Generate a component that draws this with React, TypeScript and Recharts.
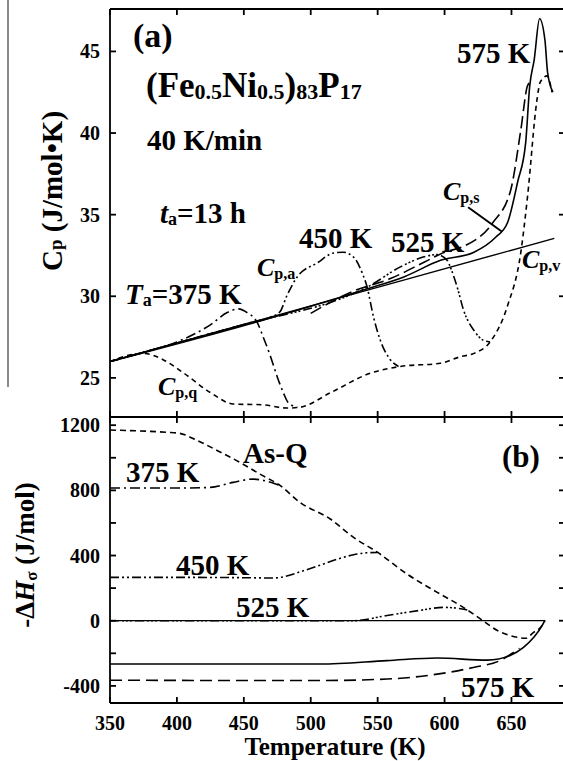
import React from 'react';
import { LineChart, Line, XAxis, YAxis, ReferenceLine } from 'recharts';

// ---------- shared x axis ----------
const T_DOMAIN = [350, 690];
const T_TICKS = [350, 400, 450, 500, 550, 600, 650];

// ---------- panel (a): Cp (J/mol K) — occupies the upper part of the plot ----------
const CP_DOMAIN = [5.08, 47.6];
const CP_TICKS = [25, 30, 35, 40, 45];
const CP_BOTTOM = 22.6;

const cpvT = [350, 682];
const cpvC = [26.0, 33.55];

const cpqT = [350, 362, 375, 390, 405, 425, 442, 464, 482, 492, 515, 545, 567, 597, 612, 622, 634, 647, 657, 662, 669, 671.4, 676.6, 680.3];
const cpqC = [26.0, 26.35, 26.5, 26.1, 25.3, 24.1, 23.4, 23.35, 23.15, 23.2, 24.1, 25.3, 25.7, 25.9, 26.3, 26.5, 27.2, 29.4, 32.7, 36.1, 42.0, 43.1, 43.5, 42.5];

const a375T = [350, 375, 400, 425, 437.6, 446, 452.5, 460, 464.5, 470, 475, 479.5, 483, 490];
const a375C = [26.0, 26.57, 27.2, 28.25, 29.0, 29.23, 29.0, 28.4, 27.5, 26.3, 25.06, 24.1, 23.5, 23.2];

const a450T = [350, 400, 450, 470, 477, 482, 490, 505, 517, 524, 532, 538.6, 542, 547, 552, 559.6, 565.6];
const a450C = [26.0, 27.14, 28.27, 28.73, 29.05, 30.0, 31.2, 32.05, 32.65, 32.7, 32.4, 31.4, 30.6, 28.7, 27.3, 26.1, 25.7];

const a525T = [350, 450, 530, 542, 567, 584, 594.6, 602, 604.5, 610, 614, 622, 629, 634];
const a525C = [26.0, 28.27, 30.1, 30.55, 31.8, 32.4, 32.55, 32.2, 31.75, 30.4, 29.2, 27.9, 27.3, 27.2];

const a575T = [350, 540, 570, 597, 622, 638, 647, 654.6, 660.6, 663.6, 667, 671, 675, 677, 681];
const a575C = [26.0, 30.4, 31.2, 32.2, 32.7, 33.6, 34.5, 37.0, 39.4, 42.85, 44.5, 47.0, 45.7, 43.7, 42.5];

const cpsT = [500, 530, 560, 585, 600, 614, 636, 649.4, 657, 662, 665];
const cpsC = [28.95, 30.25, 31.1, 32.1, 32.7, 33.05, 34.5, 36.5, 40.2, 42.9, 43.2];

// ---------- panel (b): -dH (J/mol) — occupies the lower part of the plot ----------
const H_DOMAIN = [-505, 3754];
const H_TICKS = [-400, -200, 0, 200, 400, 600, 800, 1000, 1200];

const asqT = [350, 392.6, 402, 415, 430, 447, 462, 477, 492, 514.6, 532, 550, 572, 594.5, 614, 627, 639.5, 654.5, 660.5, 666.5, 671.7, 675];
const asqH = [1170, 1156, 1150, 1107, 1045, 972, 900, 830, 726, 624, 511, 419, 286, 174, 82, 10, -60, -102, -108, -72, -41, 0];

const b375T = [350, 400, 425, 442, 457, 467.5, 477];
const b375H = [814, 814, 818, 849, 869, 855, 830];

const b450T = [350, 400, 450, 472, 480, 492, 505, 520, 532, 542, 550];
const b450H = [266, 266, 264, 262, 270, 300, 335, 378, 405, 417, 419];

const b525T = [350, 450, 532, 557, 582, 599, 610, 617];
const b525H = [0, 0, 0, 32, 64, 82, 76, 66];

const b575T = [350, 450, 507, 557, 594.5, 632, 649, 659, 666.5, 673, 675];
const b575H = [-266, -266, -266, -245, -229, -242, -213, -164, -103, -29, 4];

const bldT = [350, 450, 507, 557, 594.5, 621.5, 641.6, 651.5, 656];
const bldH = [-365, -367, -367, -358, -328, -287, -244, -195, -170];

const zeroT = [350, 675];
const zeroH = [0, 0];

const zip = (ts: number[], vs: number[]) => ts.map((t, i) => ({ t, v: vs[i] }));

// ---------- layout constants ----------
const PLOT_W = 455;    // plot width in px
const PLOT_H = 694;    // full plot height (both panels)
const PANEL_B_H = 286; // height of the lower panel
const TK = 6;

const FONT = "'Liberation Serif', 'Times New Roman', serif";
const TXT = { fill: '#000', fontSize: 20, fontWeight: 'bold' as const, fontFamily: FONT };
const INK = '#000';

const lineProps = {
  dataKey: 'v',
  dot: false,
  stroke: INK,
  strokeWidth: 1.6,
  isAnimationActive: false,
  type: 'monotone' as const,
  activeDot: false,
};

// bottom x-axis tick renderer: tick marks on bottom, middle divider and top border,
// label below; the first tick also draws the frame (bottom, divider, top and left borders)
const TickX = ({ x, y, payload, index }: any) => {
  const mid = y - PANEL_B_H;
  const top = y - PLOT_H;
  return (
    <g stroke={INK} strokeWidth={1.8} fill="none">
      {index === 0 ? (
        <g>
          <line x1={x} x2={x + PLOT_W} y1={y} y2={y} />
          <line x1={x} x2={x + PLOT_W} y1={mid} y2={mid} />
          <line x1={x} x2={x + PLOT_W} y1={top} y2={top} />
          <line x1={x} x2={x} y1={top} y2={y} />
        </g>
      ) : null}
      <line x1={x} x2={x} y1={y} y2={y - TK} />
      <line x1={x} x2={x} y1={mid - TK} y2={mid + TK} />
      <line x1={x} x2={x} y1={top} y2={top + TK} />
      <text x={x} y={y + 27} textAnchor="middle" stroke="none" {...TXT}>{payload.value}</text>
    </g>
  );
};
// left axis (panel a): x is the plot's left edge
const TickA = ({ x, y, payload }: any) => (
  <g stroke={INK} strokeWidth={1.8}>
    <line x1={x} x2={x + TK} y1={y} y2={y} />
    <line x1={x + PLOT_W} x2={x + PLOT_W - TK} y1={y} y2={y} />
    <text x={x - 10} y={y + 7} textAnchor="end" stroke="none" {...TXT}>{payload.value}</text>
  </g>
);
// right axis (panel b): x is the plot's right edge
const TickB = ({ x, y, payload }: any) => (
  <g stroke={INK} strokeWidth={1.8}>
    <line x1={x} x2={x - TK} y1={y} y2={y} />
    <line x1={x - PLOT_W} x2={x - PLOT_W + TK} y1={y} y2={y} />
    {payload.value % 400 === 0 ? (
      <text x={x - PLOT_W - 10} y={y + 7} textAnchor="end" stroke="none" {...TXT}>{payload.value}</text>
    ) : null}
  </g>
);

function Sub({ x, y, main, sub, size = 26 }: any) {
  return (
    <text x={x} y={y} fontFamily={FONT} fontWeight="bold" fontSize={size}>
      <tspan fontStyle="italic">{main}</tspan>
      <tspan fontSize={size * 0.62} dy={3}>{sub}</tspan>
    </text>
  );
}

export default function App() {
  return (
    <div style={{ position: 'absolute', left: 0, top: 0, width: 563, height: 761, overflow: 'hidden', background: '#fff' }}>
      <div style={{ position: 'absolute', left: 7, top: 0, width: 2, height: 387, background: '#8a8a8a' }} />
      <div style={{ position: 'absolute', left: 0, top: 0 }}>
        <LineChart width={565} height={761} margin={{ top: 9, right: -1, bottom: 0, left: 0 }}>
          <XAxis xAxisId="x" dataKey="t" type="number" domain={T_DOMAIN} ticks={T_TICKS} allowDataOverflow
            height={58} axisLine={false} tickLine={false} tickSize={0} tickMargin={0} interval={0}
            tick={(p: any) => <TickX {...p} />} />
          <YAxis yAxisId="a" type="number" domain={CP_DOMAIN} ticks={CP_TICKS} allowDataOverflow width={110}
            axisLine={false} tickLine={false} tickSize={0} tickMargin={0} interval={0}
            tick={(p: any) => <TickA {...p} />} />
          <YAxis yAxisId="b" orientation="right" type="number" domain={H_DOMAIN} ticks={H_TICKS} allowDataOverflow width={1}
            axisLine={false} tickLine={false} tickSize={0} tickMargin={0} interval={0}
            tick={(p: any) => <TickB {...p} />} />
          <ReferenceLine xAxisId="x" yAxisId="a" y={CP_BOTTOM} stroke={INK} strokeWidth={1.6} ifOverflow="visible" />

          <Line {...lineProps} xAxisId="x" yAxisId="a" data={zip(cpvT, cpvC)} type="linear" strokeWidth={1.4} />
          <Line {...lineProps} xAxisId="x" yAxisId="a" data={zip(cpqT, cpqC)} strokeDasharray="5 4" />
          <Line {...lineProps} xAxisId="x" yAxisId="a" data={zip(a375T, a375C)} strokeDasharray="10 4 2 4" />
          <Line {...lineProps} xAxisId="x" yAxisId="a" data={zip(a450T, a450C)} strokeDasharray="9 3 2 3 2 3" />
          <Line {...lineProps} xAxisId="x" yAxisId="a" data={zip(a525T, a525C)} strokeDasharray="9 3 2 2 2 2 2 3" />
          <Line {...lineProps} xAxisId="x" yAxisId="a" data={zip(a575T, a575C)} />
          <Line {...lineProps} xAxisId="x" yAxisId="a" data={zip(cpsT, cpsC)} strokeDasharray="12 5" />
          <ReferenceLine xAxisId="x" yAxisId="a" segment={[{ x: 617.6, y: 35.45 }, { x: 643, y: 33.95 }]}
            stroke={INK} strokeWidth={2} ifOverflow="visible" />

          <Line {...lineProps} xAxisId="x" yAxisId="b" data={zip(zeroT, zeroH)} type="linear" strokeWidth={1.2} />
          <Line {...lineProps} xAxisId="x" yAxisId="b" data={zip(asqT, asqH)} strokeDasharray="6 4" />
          <Line {...lineProps} xAxisId="x" yAxisId="b" data={zip(b375T, b375H)} strokeDasharray="10 4 2 4" />
          <Line {...lineProps} xAxisId="x" yAxisId="b" data={zip(b450T, b450H)} strokeDasharray="9 3 2 3 2 3" />
          <Line {...lineProps} xAxisId="x" yAxisId="b" data={zip(b525T, b525H)} strokeDasharray="9 3 2 2 2 2 2 3" />
          <Line {...lineProps} xAxisId="x" yAxisId="b" data={zip(b575T, b575H)} />
          <Line {...lineProps} xAxisId="x" yAxisId="b" data={zip(bldT, bldH)} strokeDasharray="12 6" />
        </LineChart>
      </div>
      <svg width={563} height={761} style={{ position: 'absolute', left: 0, top: 0, pointerEvents: 'none' }}>
        <g fontFamily={FONT} fontWeight="bold" fill="#000">
          <text x={133} y={47} fontSize={34}>(a)</text>
          <text x={146} y={97} fontSize={35}>
            <tspan>(Fe</tspan><tspan fontSize={22} dy={2}>0.5</tspan><tspan dy={-2}>Ni</tspan>
            <tspan fontSize={22} dy={2}>0.5</tspan><tspan dy={-2}>)</tspan>
            <tspan fontSize={22} dy={2}>83</tspan><tspan dy={-2}>P</tspan><tspan fontSize={22} dy={2}>17</tspan>
          </text>
          <text x={147} y={150} fontSize={29}>40 K/min</text>
          <text x={160} y={223} fontSize={29}>
            <tspan fontStyle="italic">t</tspan><tspan fontSize={18} dy={2}>a</tspan><tspan dy={-2}>=13 h</tspan>
          </text>
          <text x={125} y={304} fontSize={29}>
            <tspan fontStyle="italic">T</tspan><tspan fontSize={18} dy={2}>a</tspan><tspan dy={-2}>=375 K</tspan>
          </text>
          <text x={299} y={248} fontSize={29}>450 K</text>
          <text x={391} y={252} fontSize={29}>525 K</text>
          <text x={457} y={63} fontSize={29}>575 K</text>
          <text x={502} y={467} fontSize={31}>(b)</text>
          <text x={243} y={463} fontSize={29}>As-Q</text>
          <text x={126} y={482} fontSize={29}>375 K</text>
          <text x={176} y={575} fontSize={29}>450 K</text>
          <text x={236} y={617} fontSize={29}>525 K</text>
          <text x={461} y={697} fontSize={29}>575 K</text>
          <text x={335} y={755} fontSize={25}>
            <tspan textAnchor="middle" x={335}>Temperature (K)</tspan>
          </text>
          <text transform="translate(62,191) rotate(-90)" fontSize={29} textAnchor="middle">
            <tspan>C</tspan><tspan fontSize={19}>p</tspan><tspan> (J/mol•K)</tspan>
          </text>
          <text transform="translate(34,555) rotate(-90)" fontSize={27} textAnchor="middle">
            <tspan>-Δ</tspan><tspan fontStyle="italic">H</tspan><tspan fontSize={17} dy={3}>σ</tspan><tspan dy={-3}> (J/mol)</tspan>
          </text>
        </g>
        <Sub x={257} y={276} main="C" sub="p,a" size={26} />
        <Sub x={443} y={200} main="C" sub="p,s" size={26} />
        <Sub x={522} y={268} main="C" sub="p,v" size={26} />
        <Sub x={158} y={395} main="C" sub="p,q" size={26} />
      </svg>
    </div>
  );
}
